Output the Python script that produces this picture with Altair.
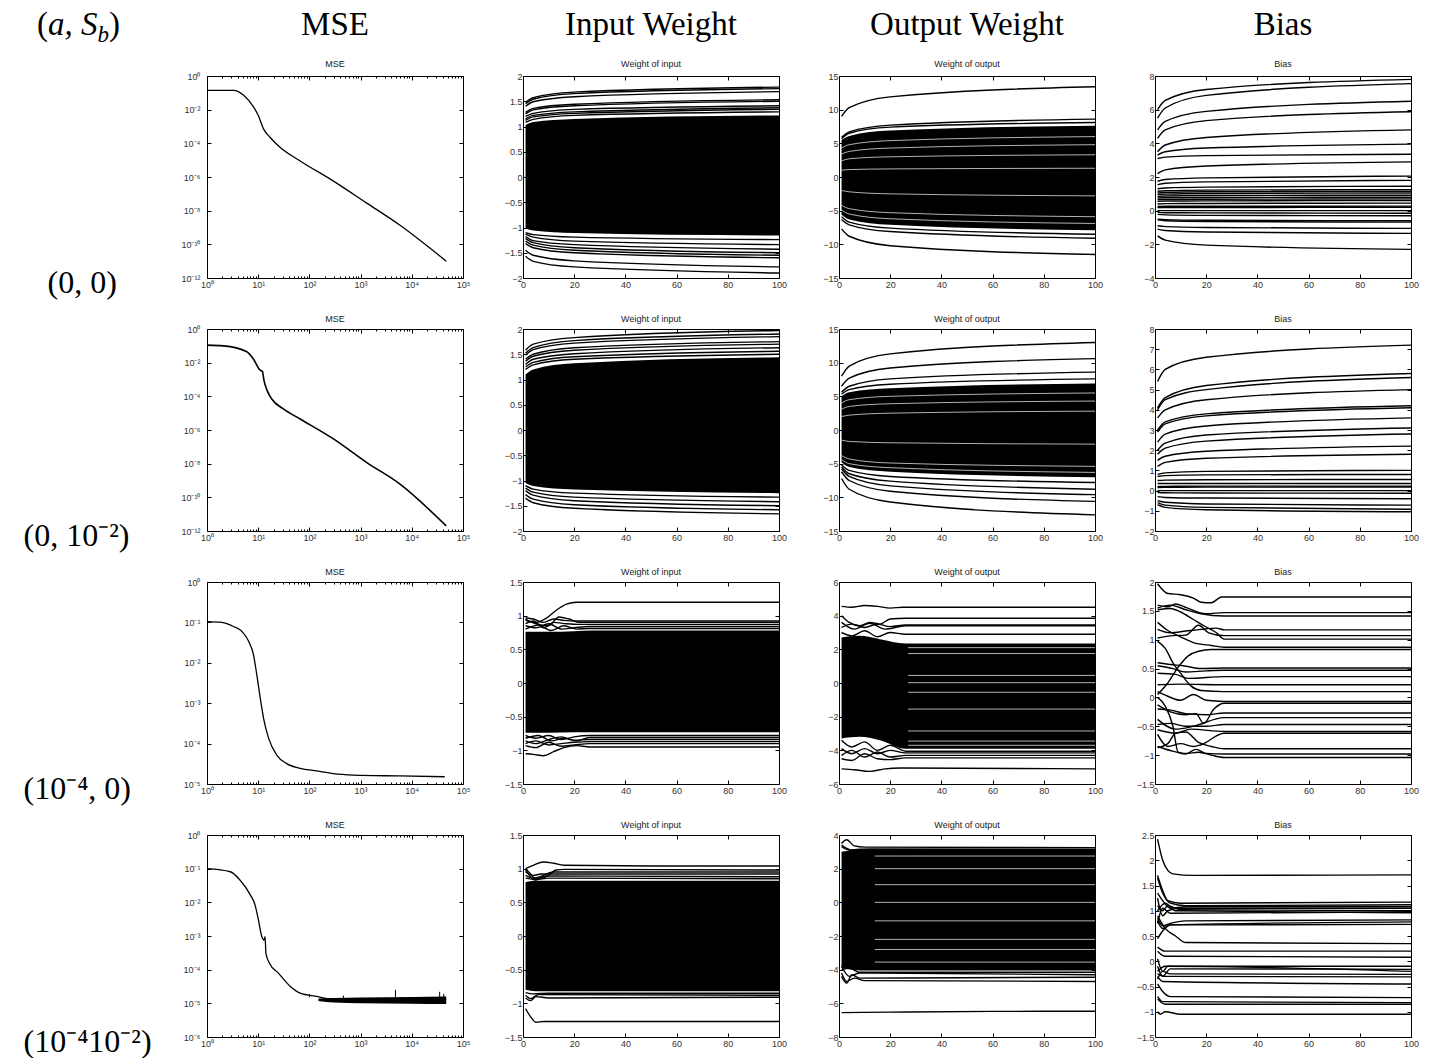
import math

import altair as alt
import pandas as pd

# ---------------------------------------------------------------- layout / style
W, H = 256, 202
SERIF = "Liberation Serif"
SANS = "Liberation Sans"
INK = "black"
LABEL_INK = "#333333"

column_headers = ["MSE", "Input Weight", "Output Weight", "Bias"]
panel_titles = ["MSE", "Weight of input", "Weight of output", "Bias"]
row_labels = ["(0, 0)", "(0, 10⁻²)", "(10⁻⁴, 0)", "(10⁻⁴10⁻²)"]
row_label_x = [-164, -188, -188, -188]
header_parts = ["(", "a, S", "b", ")"]

# ---------------------------------------------------------------- tick positions
iter_ticks = [1, 10, 100, 1000, 10000, 100000]
iter_minor = [2, 3, 4, 5, 6, 7, 8, 9, 20, 30, 40, 50, 60, 70, 80, 90,
              200, 300, 400, 500, 600, 700, 800, 900,
              2000, 3000, 4000, 5000, 6000, 7000, 8000, 9000,
              20000, 30000, 40000, 50000, 60000, 70000, 80000, 90000]
epoch_ticks = [0, 20, 40, 60, 80, 100]

mse_domain = [[1e-12, 1], [1e-12, 1], [1e-5, 1], [1e-6, 1]]
mse_ticks = [[1e-12, 1e-10, 1e-8, 1e-6, 1e-4, 1e-2, 1],
             [1e-12, 1e-10, 1e-8, 1e-6, 1e-4, 1e-2, 1],
             [1e-5, 1e-4, 1e-3, 1e-2, 1e-1, 1],
             [1e-6, 1e-5, 1e-4, 1e-3, 1e-2, 1e-1, 1]]
input_domain = [[-2, 2], [-2, 2], [-1.5, 1.5], [-1.5, 1.5]]
input_ticks = [[-2, -1.5, -1, -0.5, 0, 0.5, 1, 1.5, 2],
               [-2, -1.5, -1, -0.5, 0, 0.5, 1, 1.5, 2],
               [-1.5, -1, -0.5, 0, 0.5, 1, 1.5],
               [-1.5, -1, -0.5, 0, 0.5, 1, 1.5]]
output_domain = [[-15, 15], [-15, 15], [-6, 6], [-8, 4]]
output_ticks = [[-15, -10, -5, 0, 5, 10, 15],
                [-15, -10, -5, 0, 5, 10, 15],
                [-6, -4, -2, 0, 2, 4, 6],
                [-8, -6, -4, -2, 0, 2, 4]]
bias_domain = [[-4, 8], [-2, 8], [-1.5, 2], [-1.5, 2.5]]
bias_ticks = [[-4, -2, 0, 2, 4, 6, 8],
              [-2, -1, 0, 1, 2, 3, 4, 5, 6, 7, 8],
              [-1.5, -1, -0.5, 0, 0.5, 1, 1.5, 2],
              [-1.5, -1, -0.5, 0, 0.5, 1, 1.5, 2, 2.5]]

# ---------------------------------------------------------------- MSE curves
mse1_iter = [1, 3.3, 5.2, 8.1, 10, 12.7, 17, 27, 66, 295, 1300, 5800, 47000]
mse1_val = [0.14, 0.14, 0.072, 0.0145, 0.0046, 7.2e-4, 2.3e-4, 5.7e-5, 9e-6,
            5.7e-7, 2.9e-8, 1.4e-9, 1e-11]
mse2_iter = [1, 2.1, 6, 8.1, 10.7, 12.1, 13, 14.7, 18.4, 31, 66, 295, 1300, 5800, 47000]
mse2_val = [0.11, 0.1, 0.045, 0.016, 3.8e-3, 2.95e-3, 8.5e-4, 2.5e-4, 6.9e-5,
            1.8e-5, 4.5e-6, 2.95e-7, 1.2e-8, 6.3e-10, 2e-12]
mse3_iter = [1, 1.96, 3.3, 4.8, 6.5, 8.1, 9.4, 11, 12.7, 16, 23, 36, 66, 140,
             295, 720, 5800, 44000]
mse3_val = [0.105, 0.1, 0.079, 0.06, 0.034, 0.0158, 0.005, 1.3e-3, 4.3e-4,
            1.35e-4, 5.2e-5, 3.2e-5, 2.45e-5, 2.1e-5, 1.8e-5, 1.66e-5, 1.58e-5, 1.51e-5]
mse4_iter = [1, 2.85, 4.4, 7, 8.7, 10.1, 11.8, 13, 13.6, 14.2, 16.6, 24.8, 42,
             66, 140, 295, 47000]
mse4_val = [0.1, 0.081, 0.046, 0.0166, 8.3e-3, 3.0e-3, 9.5e-4, 7.6e-4, 9.5e-4,
            2.95e-4, 1.55e-4, 7.9e-5, 3.2e-5, 2.0e-5, 1.6e-5, 1.32e-5, 1.26e-5]
# noisy plateau of the last run
mse4_band_iter = [150, 300, 1000, 10000, 47000]
mse4_band_top = [1.38e-5, 1.45e-5, 1.5e-5, 1.55e-5, 1.6e-5]
mse4_band_bottom = [1.18e-5, 1.06e-5, 1.0e-5, 0.97e-5, 0.95e-5]
mse4_spike_iter = [100, 460, 4800, 35000, 42000]
mse4_spike_top = [1.9e-5, 1.7e-5, 2.5e-5, 2.2e-5, 1.9e-5]
mse4_spike_base = [1.5e-5, 1.4e-5, 1.5e-5, 1.5e-5, 1.5e-5]

# ---------------------------------------------------------------- rows 1-2: slowly growing weights
growth_x = [1, 4, 20, 100]

r1_input_band_top = [1.03, 1.09, 1.15, 1.22]
r1_input_band_bottom = [-1.02, -1.06, -1.11, -1.16]
r1_input = [
    [1.48, 1.57, 1.68, 1.78], [1.45, 1.54, 1.65, 1.75], [1.40, 1.49, 1.59, 1.69],
    [1.28, 1.36, 1.44, 1.53], [1.25, 1.33, 1.41, 1.50], [1.20, 1.26, 1.34, 1.41],
    [1.15, 1.22, 1.29, 1.37], [1.12, 1.19, 1.26, 1.34], [1.08, 1.14, 1.22, 1.29],
    [-1.10, -1.14, -1.19, -1.24], [-1.13, -1.19, -1.27, -1.34], [-1.18, -1.26, -1.34, -1.43],
    [-1.22, -1.30, -1.40, -1.50], [-1.27, -1.35, -1.45, -1.55], [-1.32, -1.40, -1.50, -1.60],
    [-1.45, -1.55, -1.66, -1.78], [-1.57, -1.67, -1.78, -1.90],
]
r1_output_band_top = [5.5, 6.1, 6.9, 7.6]
r1_output_band_bottom = [-5.6, -6.3, -7.1, -7.9]
r1_output = [
    [9.0, 10.3, 11.9, 13.4], [5.9, 6.7, 7.7, 8.6], [5.7, 6.5, 7.4, 8.1],
    [-5.9, -6.7, -7.6, -8.5], [-6.3, -7.1, -8.1, -9.1], [-7.7, -8.8, -10.2, -11.5],
]
# thin white streaks between neighbouring weights inside the dense block
r1_output_gaps = [
    [4.3, 4.8, 5.4, 6.0], [3.4, 3.8, 4.3, 4.8], [2.4, 2.7, 3.0, 3.3],
    [1.0, 1.1, 1.2, 1.3], [-2.0, -2.2, -2.5, -2.8], [-4.2, -4.7, -5.3, -5.9],
    [-4.9, -5.5, -6.2, -6.9],
]
r1_bias = [
    [6.0, 6.55, 7.2, 7.8], [5.5, 6.1, 6.85, 7.55], [4.8, 5.3, 5.9, 6.5],
    [4.3, 4.8, 5.35, 5.88], [3.5, 3.9, 4.35, 4.8], [3.3, 3.5, 3.72, 3.95],
    [3.1, 3.18, 3.27, 3.35], [2.2, 2.42, 2.65, 2.9], [1.75, 1.85, 1.95, 2.05],
    [1.55, 1.63, 1.71, 1.8], [1.3, 1.35, 1.4, 1.45], [1.15, 1.18, 1.22, 1.25],
    [1.05, 1.08, 1.12, 1.15], [0.95, 0.98, 1.02, 1.05], [0.85, 0.87, 0.9, 0.92],
    [0.75, 0.77, 0.78, 0.8], [0.65, 0.67, 0.68, 0.7], [0.55, 0.57, 0.58, 0.6],
    [0.4, 0.42, 0.43, 0.45], [0.25, 0.26, 0.26, 0.27], [0.18, 0.19, 0.19, 0.2],
    [0.0, 0.0, 0.0, 0.0], [-0.1, -0.12, -0.13, -0.15], [-0.22, -0.25, -0.28, -0.3],
    [-0.5, -0.53, -0.57, -0.6], [-0.55, -0.6, -0.64, -0.68], [-0.9, -0.95, -1.0, -1.05],
    [-1.1, -1.18, -1.27, -1.35], [-1.5, -1.75, -2.05, -2.3],
]

r2_input_band_top = [1.10, 1.20, 1.32, 1.44]
r2_input_band_bottom = [-1.05, -1.11, -1.18, -1.25]
r2_input = [
    [1.58, 1.70, 1.83, 1.97], [1.52, 1.63, 1.77, 1.90], [1.48, 1.59, 1.72, 1.85],
    [1.40, 1.50, 1.63, 1.75], [1.36, 1.46, 1.58, 1.70], [1.30, 1.40, 1.51, 1.63],
    [1.25, 1.34, 1.45, 1.56], [1.20, 1.29, 1.40, 1.50],
    [-1.10, -1.17, -1.25, -1.33], [-1.15, -1.23, -1.33, -1.42], [-1.20, -1.29, -1.40, -1.50],
    [-1.28, -1.37, -1.48, -1.58], [-1.35, -1.44, -1.55, -1.66],
]
r2_output_band_top = [5.0, 5.6, 6.2, 6.9]
r2_output_band_bottom = [-4.8, -5.5, -6.2, -7.0]
r2_output = [
    [8.0, 9.5, 11.3, 13.0], [6.5, 7.7, 9.2, 10.6], [5.6, 6.5, 7.6, 8.6], [5.3, 6.0, 6.8, 7.6],
    [-5.2, -6.0, -6.9, -7.8], [-5.5, -6.5, -7.6, -8.8], [-5.8, -6.9, -8.3, -9.6],
    [-6.2, -7.5, -9.1, -10.6], [-7.2, -8.8, -10.7, -12.6],
]
r2_output_gaps = [
    [4.0, 4.5, 5.0, 5.5], [3.1, 3.5, 3.9, 4.3], [2.0, 2.2, 2.5, 2.8],
    [-1.5, -1.7, -1.9, -2.1], [-3.8, -4.3, -4.9, -5.4], [-4.4, -5.0, -5.6, -6.3],
]
r2_bias = [
    [5.4, 6.0, 6.6, 7.2], [4.1, 4.6, 5.2, 5.8], [4.0, 4.5, 5.0, 5.6], [3.6, 4.0, 4.5, 5.0],
    [3.0, 3.4, 3.8, 4.2], [2.9, 3.3, 3.7, 4.1], [2.4, 2.8, 3.2, 3.6], [2.0, 2.35, 2.75, 3.1],
    [1.8, 2.1, 2.45, 2.8], [1.5, 1.7, 1.95, 2.2], [1.2, 1.4, 1.6, 1.8], [0.8, 0.88, 0.95, 1.0],
    [0.7, 0.74, 0.78, 0.8], [0.5, 0.52, 0.54, 0.55], [0.35, 0.35, 0.35, 0.35],
    [0.2, 0.21, 0.22, 0.22], [0.15, 0.16, 0.17, 0.18], [0.0, 0.0, 0.0, 0.0],
    [-0.1, -0.11, -0.12, -0.13], [-0.3, -0.34, -0.37, -0.4], [-0.5, -0.58, -0.66, -0.72],
    [-0.6, -0.72, -0.83, -0.92], [-0.7, -0.83, -0.95, -1.05],
]

# ---------------------------------------------------------------- rows 3-4: weights that settle
r3_input_band_x = [1, 10, 20, 27, 100]
r3_input_band_top = [0.76, 0.76, 0.77, 0.78, 0.78]
r3_input_band_bottom = [-0.74, -0.74, -0.73, -0.73, -0.73]
r3_input = [
    [(1, 0.93), (5, 0.9), (9, 0.96), (13, 1.08), (17, 1.17), (21, 1.2), (26, 1.2), (100, 1.2)],
    [(1, 0.97), (4, 0.95), (8, 0.9), (12, 0.95), (16, 0.93), (20, 0.92), (26, 0.92), (100, 0.92)],
    [(1, 0.95), (5, 0.88), (10, 0.85), (14, 0.98), (18, 0.95), (22, 0.9), (27, 0.9), (100, 0.9)],
    [(1, 0.88), (4, 0.92), (8, 0.82), (12, 0.9), (17, 0.88), (22, 0.87), (27, 0.87), (100, 0.87)],
    [(1, 0.85), (5, 0.82), (10, 0.88), (15, 0.8), (20, 0.82), (26, 0.84), (100, 0.84)],
    [(1, 0.8), (6, 0.86), (11, 0.78), (16, 0.85), (21, 0.8), (26, 0.81), (100, 0.81)],
    [(1, -0.78), (5, -0.82), (10, -0.78), (15, -0.84), (20, -0.8), (26, -0.78), (100, -0.78)],
    [(1, -0.82), (6, -0.78), (11, -0.86), (16, -0.82), (21, -0.86), (26, -0.81), (100, -0.81)],
    [(1, -0.86), (5, -0.9), (10, -0.84), (15, -0.8), (20, -0.85), (26, -0.84), (100, -0.84)],
    [(1, -0.9), (5, -0.86), (10, -0.92), (15, -0.9), (20, -0.88), (26, -0.87), (100, -0.87)],
    [(1, -0.93), (5, -0.96), (10, -0.88), (15, -0.94), (20, -0.92), (26, -0.9), (100, -0.9)],
    [(1, -1.05), (4, -1.06), (8, -1.08), (12, -1.02), (16, -0.96), (21, -0.93), (26, -0.95), (100, -0.95)],
]
r3_output_band_x = [1, 8, 16, 26, 100]
r3_output_band_top = [2.7, 2.8, 2.6, 2.35, 2.35]
r3_output_band_bottom = [-3.3, -3.2, -3.4, -3.9, -3.9]
r3_output = [
    [(1, 4.55), (5, 4.5), (10, 4.6), (15, 4.55), (20, 4.45), (25, 4.5), (100, 4.5)],
    [(1, 4.0), (4, 3.6), (8, 3.4), (12, 3.6), (16, 3.5), (20, 3.8), (26, 3.85), (100, 3.85)],
    [(1, 3.3), (5, 3.5), (10, 3.3), (15, 3.5), (20, 3.35), (26, 3.45), (100, 3.45)],
    [(1, 3.0), (5, 2.8), (10, 3.1), (15, 2.75), (20, 3.0), (26, 2.9), (100, 2.9)],
    [(1, 3.6), (6, 3.2), (12, 3.55), (18, 3.2), (26, 3.4), (100, 3.4)],
    [(1, -3.4), (5, -3.8), (10, -3.5), (15, -4.0), (20, -3.7), (26, -4.05), (100, -4.05)],
    [(1, -3.9), (5, -4.2), (10, -3.9), (15, -4.2), (20, -4.0), (26, -4.15), (100, -4.15)],
    [(1, -4.3), (5, -4.0), (10, -4.4), (15, -4.1), (20, -4.4), (26, -4.3), (100, -4.3)],
    [(1, -4.5), (5, -4.6), (10, -4.2), (15, -4.5), (20, -4.55), (26, -4.45), (100, -4.45)],
    [(1, -5.1), (6, -5.15), (12, -5.25), (18, -5.1), (24, -5.05), (100, -5.1)],
]
r3_output_gap_y = [2.1, 1.75, 0.45, 0.02, -0.55, -1.55, -2.85, -3.45, -3.7]
r3_bias = [
    [(1, 1.97), (5, 1.8), (10, 1.78), (15, 1.72), (18, 1.65), (22, 1.64), (26, 1.74), (100, 1.74)],
    [(1, 1.6), (5, 1.57), (8, 1.62), (12, 1.56), (20, 1.45), (27, 1.47), (100, 1.47)],
    [(1, 1.55), (6, 1.6), (12, 1.52), (18, 1.45), (27, 1.41), (100, 1.41)],
    [(1, 1.52), (6, 1.54), (10, 1.48), (15, 1.35), (20, 1.22), (24, 1.12), (27, 1.01), (100, 1.01)],
    [(1, 1.3), (5, 1.16), (10, 1.05), (15, 0.95), (22, 0.9), (27, 0.87), (100, 0.87)],
    [(1, 1.03), (7, 1.07), (12, 1.08), (17, 1.25), (21, 1.12), (27, 1.07), (100, 1.07)],
    [(1, 1.18), (6, 1.12), (12, 1.15), (18, 1.18), (24, 1.2), (27, 1.17), (100, 1.17)],
    [(1, 0.97), (4, 0.85), (7, 0.6), (10, 0.42), (14, 0.2), (18, 0.12), (27, 0.1), (100, 0.1)],
    [(1, 0.05), (5, 0.25), (9, 0.52), (13, 0.72), (17, 0.8), (22, 0.83), (27, 0.83), (100, 0.83)],
    [(1, 0.6), (6, 0.57), (11, 0.55), (18, 0.5), (27, 0.51), (100, 0.51)],
    [(1, 0.55), (7, 0.5), (12, 0.44), (20, 0.46), (27, 0.47), (100, 0.47)],
    [(1, 0.42), (8, 0.4), (13, 0.33), (27, 0.36), (100, 0.36)],
    [(1, 0.22), (10, 0.23), (27, 0.22), (100, 0.22)],
    [(1, 0.1), (5, 0.02), (10, -0.05), (15, 0.05), (20, -0.05), (27, -0.07), (100, -0.07)],
    [(1, 0.0), (4, -0.15), (7, -0.5), (9, -0.95), (12, -0.98), (16, -0.9), (20, -0.97), (27, -0.98), (100, -0.98)],
    [(1, -0.13), (6, -0.25), (12, -0.3), (16, -0.28), (19, -0.45), (23, -0.2), (27, -0.1), (100, -0.1)],
    [(1, -0.2), (6, -0.22), (12, -0.28), (20, -0.3), (27, -0.27), (100, -0.27)],
    [(1, -0.38), (8, -0.55), (15, -0.5), (27, -0.35), (100, -0.35)],
    [(1, -0.47), (6, -0.45), (12, -0.5), (20, -0.5), (27, -0.47), (100, -0.47)],
    [(1, -0.56), (8, -0.62), (14, -0.55), (27, -0.59), (100, -0.59)],
    [(1, -0.64), (5, -0.85), (10, -0.8), (15, -0.85), (18, -0.82), (27, -0.62), (100, -0.62)],
    [(1, -0.87), (5, -0.8), (8, -0.62), (12, -0.6), (17, -0.78), (22, -0.85), (27, -0.89), (100, -0.89)],
    [(1, -0.85), (6, -0.92), (12, -0.97), (17, -0.95), (22, -1.0), (27, -1.04), (100, -1.04)],
]

r4_input_band_x = [1, 5, 15, 100]
r4_input_band_top = [0.8, 0.82, 0.82, 0.82]
r4_input_band_bottom = [-0.8, -0.82, -0.82, -0.82]
r4_input = [
    [(1, 1.0), (4, 1.05), (8, 1.1), (12, 1.08), (16, 1.05), (50, 1.04), (100, 1.04)],
    [(1, 1.0), (3, 0.92), (5, 0.85), (9, 0.88), (13, 0.98), (16, 0.99), (100, 0.98)],
    [(1, 0.98), (3, 0.88), (5, 0.83), (8, 0.9), (12, 0.95), (100, 0.95)],
    [(1, 0.95), (4, 0.9), (7, 0.92), (12, 0.92), (100, 0.92)],
    [(1, 0.9), (4, 0.86), (8, 0.89), (100, 0.88)],
    [(1, 0.86), (5, 0.84), (10, 0.86), (100, 0.85)],
    [(1, -0.84), (4, -0.86), (10, -0.85), (100, -0.85)],
    [(1, -0.88), (3, -0.93), (6, -0.87), (100, -0.88)],
    [(1, -0.92), (3, -0.96), (5, -0.9), (10, -0.92), (100, -0.91)],
    [(1, -1.08), (3, -1.2), (5, -1.28), (8, -1.27), (100, -1.27)],
]
r4_output_band_x = [1, 5, 12, 100]
r4_output_band_top = [3.0, 3.1, 3.2, 3.2]
r4_output_band_bottom = [-3.9, -4.0, -4.05, -4.05]
r4_output = [
    [(1, 3.5), (3, 3.72), (6, 3.35), (10, 3.28), (100, 3.25)],
    [(1, 3.3), (4, 3.1), (8, 3.15), (100, 3.12)],
    [(1, 3.4), (3, 3.2), (6, 3.05), (100, 3.0)],
    [(1, -4.2), (3, -4.7), (6, -4.5), (10, -4.65), (100, -4.7)],
    [(1, -4.4), (3, -4.8), (5, -4.3), (8, -4.5), (100, -4.45)],
    [(1, -3.8), (4, -4.4), (8, -4.2), (100, -4.3)],
    [(1, -4.0), (4, -3.9), (8, -4.15), (100, -4.15)],
    [(1, -6.55), (20, -6.52), (60, -6.48), (100, -6.47)],
]
r4_output_gap_y = [2.75, 2.0, 1.05, 0.0, -1.1, -2.2, -2.8, -3.55]
r4_bias = [
    [(1, 2.42), (3, 2.0), (5, 1.8), (7, 1.73), (15, 1.7), (100, 1.71)],
    [(1, 1.7), (3, 1.4), (5, 1.2), (10, 1.15), (100, 1.17)],
    [(1, 1.65), (3, 1.35), (6, 1.15), (12, 1.1), (100, 1.12)],
    [(1, 1.35), (3, 1.2), (6, 1.05), (12, 1.08), (100, 1.08)],
    [(1, 1.25), (3, 0.9), (5, 1.0), (10, 1.05), (100, 1.05)],
    [(1, 1.1), (3, 1.0), (5, 1.1), (10, 1.02), (100, 1.0)],
    [(1, 1.0), (4, 1.15), (8, 1.0), (100, 0.96)],
    [(1, 0.75), (3, 1.05), (6, 0.95), (100, 0.98)],
    [(1, 0.85), (3, 0.7), (6, 0.75), (12, 0.8), (100, 0.82)],
    [(1, 0.8), (3, 0.65), (6, 0.72), (100, 0.78)],
    [(1, 0.45), (3, 0.6), (6, 0.72), (100, 0.73)],
    [(1, 0.9), (4, 0.65), (8, 0.5), (12, 0.37), (100, 0.35)],
    [(1, 0.28), (4, 0.2), (100, 0.2)],
    [(1, 0.2), (4, 0.1), (100, 0.08)],
    [(1, 0.05), (3, -0.2), (5, -0.1), (100, -0.1)],
    [(1, -0.1), (3, -0.3), (6, -0.15), (100, -0.16)],
    [(1, -0.2), (4, -0.1), (100, -0.2)],
    [(1, -0.35), (3, -0.2), (6, -0.25), (100, -0.26)],
    [(1, -0.25), (4, -0.3), (100, -0.31)],
    [(1, -0.3), (3, -0.4), (100, -0.45)],
    [(1, -0.45), (3, -0.6), (6, -0.7), (100, -0.72)],
    [(1, -0.7), (3, -0.8), (100, -0.82)],
    [(1, -0.75), (4, -0.85), (100, -0.85)],
    [(1, -1.0), (2, -1.05), (4, -1.0), (10, -1.05), (100, -1.05)],
]


# ---------------------------------------------------------------- helpers
SUP = str.maketrans("-0123456789", "⁻⁰¹²³⁴⁵⁶⁷⁸⁹")


def power_labels(exponents):
    """labelExpr that prints a log tick as 10 with a superscript exponent."""
    expr = "''"
    for e in exponents:
        expr = f"round(log(datum.value)/LN10) == {e} ? '10{str(e).translate(SUP)}' : ({expr})"
    return expr


def on_grid(xs, curves):
    return [list(zip(xs, ys)) for ys in curves]


def flat_from(x0, levels):
    return [[(x0, y), (100, y)] for y in levels]


def curve_frame(curves):
    recs = []
    for cid, pts in enumerate(curves):
        for k, (x, y) in enumerate(pts):
            recs.append({"cid": cid, "k": k, "x": x, "y": y})
    return pd.DataFrame(recs)


def band_frame(xs, top, bottom):
    return pd.DataFrame({"x": xs, "y": top, "y2": bottom})


def tick_axis(orient, values, size):
    # ticks drawn inward from the frame, no labels
    return alt.Axis(orient=orient, values=values, labels=False, ticks=True, tickSize=size,
                    offset=-size, domain=False, grid=False, title=None,
                    tickColor=INK, tickWidth=1)


def text_piece(txt, x, y, size, font, style="normal", align="center",
               baseline="alphabetic", color=INK):
    return alt.Chart(pd.DataFrame({"t": [txt]})).mark_text(
        align=align, baseline=baseline, font=font, fontSize=size, fontStyle=style,
        color=color).encode(x=alt.value(x), y=alt.value(y), text="t:N")


def title_marks(row, col):
    marks = []
    if row == 0:
        marks.append(text_piece(column_headers[col], W / 2, -41, 33, SERIF))
        marks.append(text_piece(panel_titles[col], W / 2, -12, 9, SANS,
                                baseline="middle", color="#222222"))
    else:
        marks.append(text_piece(panel_titles[col], W / 2, -10, 9, SANS,
                                baseline="middle", color="#222222"))
    return marks


def make_panel(titles, xdom, ydom, xtype, ytype, xticks, yticks, curves, *,
               band=None, gaps=None, spikes=None, x_expr=None, y_expr=None, x_minor=None,
               row_label=None, label_x=None, extras=(), stroke=1.4, ypad=1):
    xsc = alt.Scale(type=xtype, domain=xdom, nice=False) if xtype == "log" else \
        alt.Scale(domain=xdom, nice=False, zero=False)
    ysc = alt.Scale(type=ytype, domain=ydom, nice=False) if ytype == "log" else \
        alt.Scale(domain=ydom, nice=False, zero=False)
    layers = []
    if band is not None:
        layers.append(alt.Chart(band).mark_area(color=INK, interpolate="monotone").encode(
            x=alt.X("x:Q", scale=xsc, axis=None),
            y=alt.Y("y:Q", scale=ysc, axis=None),
            y2="y2:Q"))
    if gaps:
        layers.append(alt.Chart(curve_frame(gaps)).mark_line(
            color="white", strokeWidth=0.7, interpolate="monotone").encode(
            x=alt.X("x:Q", scale=xsc, axis=None),
            y=alt.Y("y:Q", scale=ysc, axis=None),
            detail="cid:N", order="k:Q"))
    if spikes is not None:
        layers.append(alt.Chart(spikes).mark_rule(color=INK, strokeWidth=1).encode(
            x=alt.X("x:Q", scale=xsc, axis=None),
            y=alt.Y("y:Q", scale=ysc, axis=None),
            y2="y2:Q"))

    x_main = dict(orient="bottom", values=xticks, tickSize=4, offset=-4, labelPadding=2,
                  domain=False, grid=False, title=None, tickColor=INK, labelFlush=False)
    if x_expr:
        x_main["labelExpr"] = x_expr
    else:
        x_main["format"] = "~r"
    y_main = dict(orient="left", values=yticks, tickSize=4, offset=-4, labelPadding=ypad,
                  domain=False, grid=False, tickColor=INK, labelFlush=False)
    if y_expr:
        y_main["labelExpr"] = y_expr
    else:
        y_main["format"] = "~r"
    if row_label:
        y_main.update(title=row_label, titleAngle=0, titleAlign="left",
                      titleBaseline="middle", titleX=label_x, titleY=H + 4,
                      titleFont=SERIF, titleFontSize=32, titleFontWeight="normal",
                      titleColor=INK)
    else:
        y_main["title"] = None

    layers.append(alt.Chart(curve_frame(curves)).mark_line(
        color=INK, strokeWidth=stroke, interpolate="monotone").encode(
        x=alt.X("x:Q", scale=xsc, axis=alt.Axis(**x_main)),
        y=alt.Y("y:Q", scale=ysc, axis=alt.Axis(**y_main)),
        detail="cid:N", order="k:Q"))

    anchor = pd.DataFrame({"x": [xdom[0]], "y": [ydom[0]]})
    layers.append(alt.Chart(anchor).mark_point(opacity=0).encode(
        x=alt.X("x:Q", scale=xsc, axis=tick_axis("top", xticks, 4)),
        y=alt.Y("y:Q", scale=ysc, axis=tick_axis("right", yticks, 4))))
    if x_minor:
        for orient in ("bottom", "top"):
            layers.append(alt.Chart(anchor).mark_point(opacity=0).encode(
                x=alt.X("x:Q", scale=xsc, axis=tick_axis(orient, x_minor, 2)),
                y=alt.Y("y:Q", scale=ysc, axis=None)))
    layers.extend(titles)
    layers.extend(extras)
    return alt.layer(*layers).resolve_axis(x="independent", y="independent").properties(
        width=W, height=H)


# header "(a, S_b)" above the row labels, built from upright / italic pieces
header_marks = [
    text_piece(header_parts[0], -170, -41, 33, SERIF, align="left"),
    text_piece(header_parts[1], -159.0, -41, 33, SERIF, style="italic", align="left"),
    text_piece(header_parts[2], -109.5, -34, 23, SERIF, style="italic", align="left"),
    text_piece(header_parts[3], -98.0, -41, 33, SERIF, align="left"),
]

# ---------------------------------------------------------------- assemble
mse_series = [(mse1_iter, mse1_val), (mse2_iter, mse2_val),
              (mse3_iter, mse3_val), (mse4_iter, mse4_val)]
growth_rows = [
    (r1_input, r1_input_band_top, r1_input_band_bottom,
     r1_output, r1_output_band_top, r1_output_band_bottom, r1_output_gaps, r1_bias),
    (r2_input, r2_input_band_top, r2_input_band_bottom,
     r2_output, r2_output_band_top, r2_output_band_bottom, r2_output_gaps, r2_bias),
]
settle_rows = [
    (r3_input, band_frame(r3_input_band_x, r3_input_band_top, r3_input_band_bottom),
     r3_output, band_frame(r3_output_band_x, r3_output_band_top, r3_output_band_bottom),
     flat_from(27, r3_output_gap_y), r3_bias),
    (r4_input, band_frame(r4_input_band_x, r4_input_band_top, r4_input_band_bottom),
     r4_output, band_frame(r4_output_band_x, r4_output_band_top, r4_output_band_bottom),
     flat_from(14, r4_output_gap_y), r4_bias),
]

panels = []
for r in range(4):
    it, val = mse_series[r]
    exps = sorted({int(round(math.log10(v))) for v in mse_ticks[r]})
    mse_band = None
    mse_spikes = None
    if r == 3:
        mse_band = band_frame(mse4_band_iter, mse4_band_top, mse4_band_bottom)
        mse_spikes = pd.DataFrame({"x": mse4_spike_iter, "y": mse4_spike_top,
                                   "y2": mse4_spike_base})
    panels.append(make_panel(
        title_marks(r, 0), [1, 100000], mse_domain[r], "log", "log",
        iter_ticks, mse_ticks[r], [list(zip(it, val))],
        band=mse_band, spikes=mse_spikes,
        x_expr=power_labels([0, 1, 2, 3, 4, 5]), y_expr=power_labels(exps),
        x_minor=iter_minor, row_label=row_labels[r], label_x=row_label_x[r],
        extras=header_marks if r == 0 else (), stroke=1.6 if r == 1 else 1.3, ypad=7))

    if r < 2:
        (inp, it_top, it_bot, out, ot_top, ot_bot, ogaps, bias) = growth_rows[r]
        inp_c, inp_b = on_grid(growth_x, inp), band_frame(growth_x, it_top, it_bot)
        out_c, out_b = on_grid(growth_x, out), band_frame(growth_x, ot_top, ot_bot)
        out_g = on_grid(growth_x, ogaps)
        bias_c = on_grid(growth_x, bias)
    else:
        inp_c, inp_b, out_c, out_b, out_g, bias_c = settle_rows[r - 2]

    panels.append(make_panel(title_marks(r, 1), [0, 100], input_domain[r], "linear", "linear",
                             epoch_ticks, input_ticks[r], inp_c, band=inp_b))
    panels.append(make_panel(title_marks(r, 2), [0, 100], output_domain[r], "linear", "linear",
                             epoch_ticks, output_ticks[r], out_c, band=out_b, gaps=out_g))
    panels.append(make_panel(title_marks(r, 3), [0, 100], bias_domain[r], "linear", "linear",
                             epoch_ticks, bias_ticks[r], bias_c))

chart = alt.concat(
    *panels, columns=4, spacing={"row": 51, "column": 60}, bounds="flush"
).properties(
    padding={"left": 22, "top": 8, "right": 0, "bottom": 0},
    autosize=alt.AutoSizeParams(type="pad"),
    background="white",
).configure_view(
    stroke=INK, strokeWidth=1
).configure_axis(
    labelFont=SANS, labelFontSize=9, labelColor=LABEL_INK, grid=False
)

chart.save("out.html", embed_options={"renderer": "svg", "actions": False})
